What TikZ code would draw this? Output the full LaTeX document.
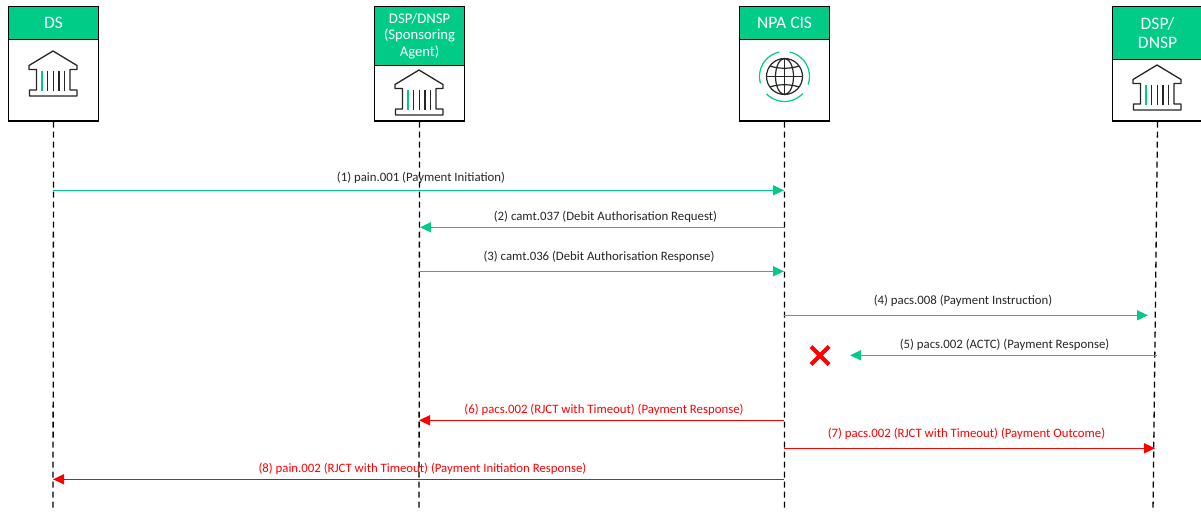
\documentclass[tikz,border=0pt]{standalone}
\usepackage{fontspec}
\setmainfont{Carlito}
\usetikzlibrary{arrows.meta,shapes.misc}
\definecolor{npagreen}{HTML}{00CC88}
\definecolor{npared}{HTML}{FF0000}
\tikzset{
  headbox/.style={draw=black,line width=1.1pt,fill=npagreen,text=white,anchor=north west,minimum width=90pt,inner sep=0pt,align=center,font=\fontsize{17.5}{19}\selectfont},
  bodybox/.style={draw=black,line width=1.1pt,fill=white,anchor=north west,minimum width=90pt,inner sep=0pt},
  lifeline/.style={draw=black,line width=1.3pt,dash pattern=on 6pt off 4pt},
  msggreen/.style={draw=npagreen,line width=1.4pt,-{Triangle[length=11pt,width=10pt]}},
  msgred/.style={draw=npared,line width=1.4pt,-{Triangle[length=11pt,width=10pt]}},
  msglabel/.style={font=\fontsize{12.8}{14}\selectfont,text=black!85},
  redlabel/.style={font=\fontsize{12.8}{14}\selectfont,text=npared},
  pics/bank/.style={code={
      \draw[line width=1.3pt,black!85,line join=round] (-24,-14.5) -- (0,0) -- (24,-14.5) -- (24,-18.5) -- (17,-18.5) -- (17,-39)
        -- (24,-39) -- (24,-45) -- (-23.5,-45) -- (-23.5,-39) -- (-16.5,-39) -- (-16.5,-18.5) -- (-24,-18.5) -- cycle;
      \draw[line width=1.3pt,npagreen] (-11,-20) -- (-11,-40);
      \draw[line width=1.3pt,black!85] (-5.3,-20) -- (-5.3,-40);
      \draw[line width=1.3pt,black!85] (0.4,-20) -- (0.4,-40);
      \draw[line width=1.3pt,black!85] (6.1,-20) -- (6.1,-40);
      \draw[line width=1.3pt,black!85] (11.8,-20) -- (11.8,-40);
    }},
}
\begin{document}
\begin{tikzpicture}[x=1pt,y=1pt]
  \clip (0,0) rectangle (1201,-513);
  \fill[white] (0,0) rectangle (1201,-513);

  % participants
  \node[headbox,minimum height=33pt] (headDS) at (8,-6) {DS};
  \node[bodybox,minimum height=81.5pt] (bodyDS) at (8,-39) {};
  \node[headbox,minimum height=59pt,font=\fontsize{14.7}{16.5}\selectfont] (headDSP) at (374,-6) {DSP/DNSP\\(Sponsoring\\Agent)};
  \node[bodybox,minimum height=55.5pt] (bodyDSP) at (374,-65) {};
  \node[headbox,minimum height=33pt] (headCIS) at (739,-6) {NPA CIS};
  \node[bodybox,minimum height=81.5pt] (bodyCIS) at (739,-39) {};
  \node[headbox,minimum height=53pt] (headDNSP) at (1112,-6) {DSP/\\DNSP};
  \node[bodybox,minimum height=61.5pt] (bodyDNSP) at (1112,-59) {};

  % icons
  \pic at (53,-51) {bank};
  \pic at (419,-70) {bank};
  \pic at (1157,-65) {bank};
  \draw[line width=1.2pt,npagreen] (784.5,-76.5) ++(196:25) arc (196:102:25);
  \draw[line width=1.2pt,npagreen] (784.5,-76.5) ++(78:25) arc (78:-19:25);
  \draw[line width=1.2pt,npagreen] (784.5,-76.5) ++(224:25) arc (224:317:25);
  \draw[line width=1.2pt,black!85] (784.5,-76.5) circle (18);
  \draw[line width=1.2pt,black!85] (784.5,-76.5) ellipse (9 and 18);
  \draw[line width=1.2pt,black!85] (784.5,-58.5) -- (784.5,-94.5);
  \draw[line width=1.2pt,black!85] (766.5,-76.5) -- (802.5,-76.5);
  \draw[line width=1.2pt,black!85] (770,-66) .. controls (778,-69) and (791,-69) .. (799,-66);
  \draw[line width=1.2pt,black!85] (770,-87) .. controls (778,-84) and (791,-84) .. (799,-87);

  % lifelines
  \coordinate (endDS) at (53,-511);
  \coordinate (endDSP) at (419,-511);
  \coordinate (endCIS) at (784.5,-511);
  \coordinate (endDNSP) at (1153,-511);
  \draw[lifeline] (bodyDS.south) -- (endDS);
  \draw[lifeline] (bodyDSP.south) -- (endDSP);
  \draw[lifeline] (bodyCIS.south) -- (endCIS);
  \draw[lifeline] (bodyDNSP.south) -- (endDNSP);

  % messages
  \coordinate (m1a) at (53,-190.3);    \coordinate (m1b) at (784,-190.3);
  \coordinate (m2a) at (784,-227.3);   \coordinate (m2b) at (420,-227.3);
  \coordinate (m3a) at (420,-271.3);   \coordinate (m3b) at (784,-271.3);
  \coordinate (m4a) at (784,-315.3);   \coordinate (m4b) at (1148,-315.3);
  \coordinate (m5a) at (1157,-355.3);  \coordinate (m5b) at (850,-355.3);
  \coordinate (m6a) at (784,-420.3);   \coordinate (m6b) at (419,-420.3);
  \coordinate (m7a) at (784,-448.3);   \coordinate (m7b) at (1155,-448.3);
  \coordinate (m8a) at (784,-479.3);   \coordinate (m8b) at (53,-479.3);

  \draw[msggreen] (m1a) -- (m1b) node[msglabel,midway,yshift=12.8pt,xshift=2.5pt] (lab1) {(1) pain.001 (Payment Initiation)};
  \draw[msggreen] (m2a) -- (m2b) node[msglabel,midway,yshift=10.8pt,xshift=3.5pt] (lab2) {(2) camt.037 (Debit Authorisation Request)};
  \draw[msggreen] (m3a) -- (m3b) node[msglabel,midway,yshift=14.3pt,xshift=-3pt] (lab3) {(3) camt.036 (Debit Authorisation Response)};
  \draw[msggreen] (m4a) -- (m4b) node[msglabel,midway,yshift=14.3pt,xshift=-3pt] (lab4) {(4) pacs.008 (Payment Instruction)};
  \draw[msggreen] (m5a) -- (m5b) node[msglabel,midway,yshift=10.3pt,xshift=1pt] (lab5) {(5) pacs.002 (ACTC) (Payment Response)};
  \draw[msgred] (m6a) -- (m6b) node[redlabel,midway,yshift=10.3pt,xshift=2.5pt] (lab6) {(6) pacs.002 (RJCT with Timeout) (Payment Response)};
  \draw[msgred] (m7a) -- (m7b) node[redlabel,midway,yshift=14.3pt,xshift=-3pt] (lab7) {(7) pacs.002 (RJCT with Timeout) (Payment Outcome)};
  \draw[msgred] (m8a) -- (m8b) node[redlabel,midway,yshift=10.3pt,xshift=4pt] (lab8) {(8) pain.002 (RJCT with Timeout) (Payment Initiation Response)};

  \node[cross out,draw=npared,line width=4pt,minimum size=14pt,inner sep=0pt] (xmark) at (820,-355.5) {};
\end{tikzpicture}
\end{document}
